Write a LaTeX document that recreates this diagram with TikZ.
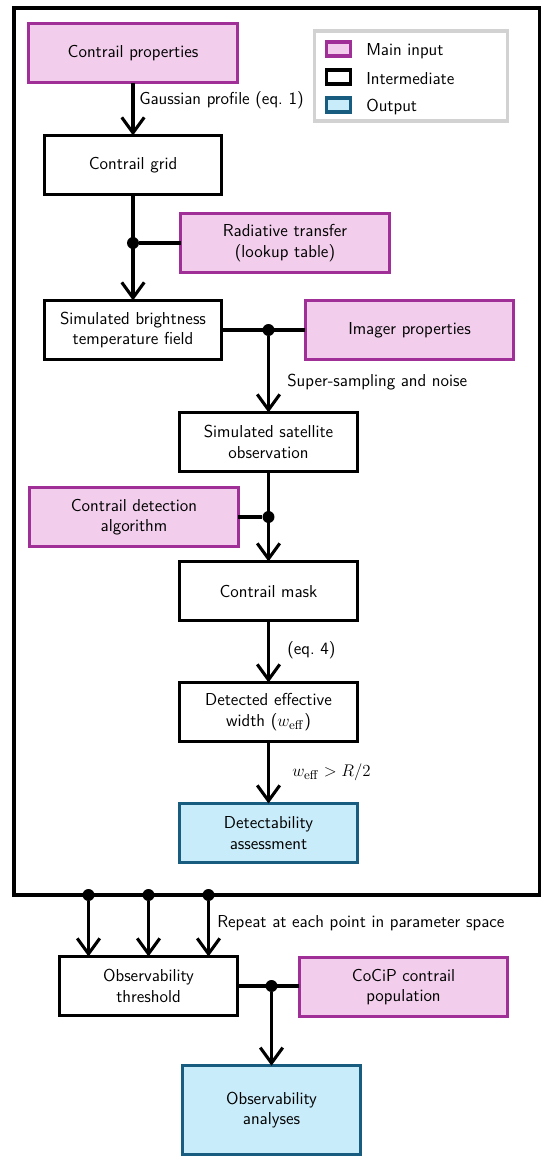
\documentclass[tikz,border=0pt]{standalone}
\usetikzlibrary{arrows.meta}
\definecolor{inputfill}{RGB}{242,206,236}
\definecolor{inputline}{RGB}{160,48,152}
\definecolor{outputfill}{RGB}{200,236,250}
\definecolor{outputline}{RGB}{24,92,128}
\definecolor{legendline}{RGB}{210,210,210}
\tikzset{
  box/.style={draw, line width=2.2pt, minimum width=126pt, minimum height=42pt, align=center, inner sep=2pt, outer sep=0pt},
  inbox/.style={box, draw=inputline, fill=inputfill, minimum width=148pt},
  outbox/.style={box, draw=outputline, fill=outputfill},
  link/.style={line width=2.2pt},
  flow/.style={link, -{Straight Barb[length=11pt,width=16pt]}},
  joint/.style={circle, fill, inner sep=0pt, minimum size=8.5pt},
  note/.style={anchor=west, inner sep=0pt},
  swatch/.style={draw, line width=2.2pt, minimum width=17pt, minimum height=10pt, inner sep=0pt},
}
\begin{document}
\begin{tikzpicture}[x=0.025cm, y=-0.025cm, font=\sffamily\fontsize{12.3}{14.6}\selectfont]
\useasboundingbox (0,0) rectangle (540,1157);
% simulation loop frame
\draw[link] (14,8) coordinate (frameNW) rectangle (539.5,895) coordinate (frameSE);

% legend
\node[draw=legendline, line width=2.2pt, minimum width=137pt, minimum height=64pt] (legend) at (411,76) {};
\node[swatch, draw=inputline, fill=inputfill] (swIn) at (338.5,49) {};
\node[swatch] (swMid) at (338.5,77) {};
\node[swatch, draw=outputline, fill=outputfill] (swOut) at (338.5,105) {};
\node[note] at (366,51) {Main input};
\node[note] at (366,79) {Intermediate};
\node[note] at (366,107) {Output};

% boxes
\node[inbox] (props) at (133,53) {Contrail properties};
\node[box] (grid) at (133,165) {Contrail grid};
\node[inbox] (radtr) at (285,243) {Radiative transfer\\(lookup table)};
\node[box] (btfield) at (133,330) {Simulated brightness\\temperature field};
\node[inbox] (imager) at (409.5,330) {Imager properties};
\node[box] (satobs) at (268.5,442) {Simulated satellite\\observation};
\node[inbox] (detalg) at (134,517) {Contrail detection\\algorithm};
\node[box] (mask) at (268.5,591) {Contrail mask};
\node[box] (weff) at (268.5,712) {Detected effective\\width ($w_{\mathrm{eff}}$)};
\node[outbox] (detect) at (268.5,833) {Detectability\\assessment};
\node[box] (obsthr) at (148.5,986) {Observability\\threshold};
\node[inbox] (cocip) at (403.5,987) {CoCiP contrail\\population};
\node[outbox, minimum height=63pt] (analyses) at (271.5,1110) {Observability\\analyses};

% connectors
\draw[flow] (props) -- (grid);
\node[note] at (139,100) {Gaussian profile (eq.~1)};

\draw[flow] (grid) -- (btfield);
\node[joint] (j1) at (grid.south |- radtr.west) {};
\draw[link] (j1) -- (radtr.west);

\draw[link] (btfield.east) -- (imager.west);
\node[joint] (j2) at (satobs.north |- btfield.east) {};
\draw[flow] (j2) -- (satobs.north);
\node[note] at (287,382) {Super-sampling and noise};

\draw[flow] (satobs) -- (mask);
\node[joint] (j3) at (satobs.south |- detalg.east) {};
\draw[link] (detalg.east) -- (j3);

\draw[flow] (mask) -- (weff);
\node[note] at (287,650) {(eq.~4)};

\draw[flow] (weff) -- (detect);
\node[note] at (292,772) {$w_{\mathrm{eff}} > R/2$};

% repeat over parameter space
\foreach \dx [count=\i] in {-60,0,60}{
  \node[joint] (rep\i) at ([xshift=\dx*0.025cm]obsthr.north |- frameSE) {};
  \draw[flow] (rep\i) -- (rep\i |- obsthr.north);
}
\node[note] at (217,923) {Repeat at each point in parameter space};

\draw[link] (obsthr.east) -- (cocip.west |- obsthr.east);
\node[joint] (j4) at (analyses.north |- obsthr.east) {};
\draw[flow] (j4) -- (analyses.north);
\end{tikzpicture}
\end{document}
